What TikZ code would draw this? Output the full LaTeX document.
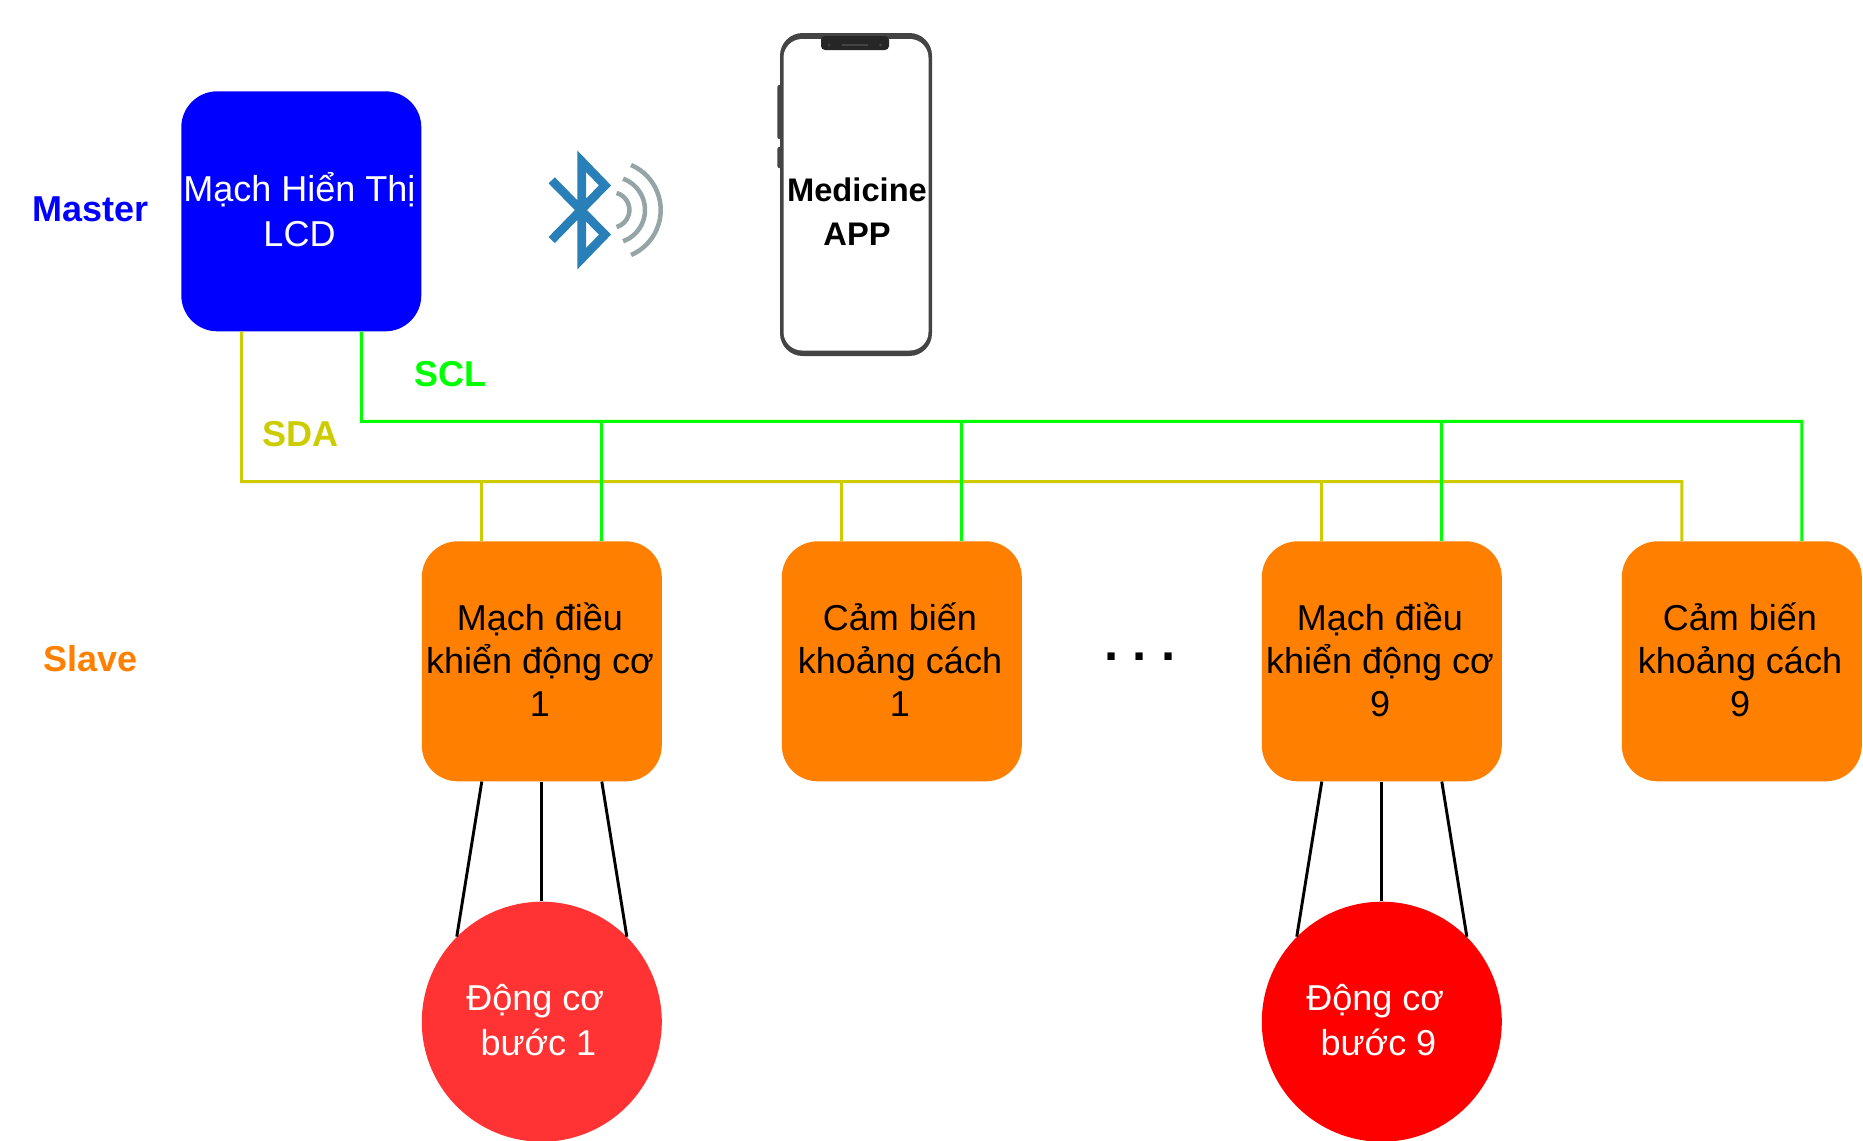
\documentclass[tikz,border=0pt]{standalone}
\usepackage{fontspec}
\setmainfont{Liberation Sans}
\definecolor{sdacolor}{HTML}{CCCC00}
\definecolor{sclcolor}{HTML}{00FF00}
\definecolor{boardcolor}{HTML}{FF8000}
\definecolor{motorlight}{HTML}{FF3333}
\definecolor{btblue}{HTML}{2980B9}
\definecolor{btgray}{HTML}{95A5A6}
\definecolor{phonecolor}{HTML}{444444}
\begin{document}
\begin{tikzpicture}[x=0.75pt, y=-0.75pt]
\tikzstyle{lcd} = [fill=blue, text=white, rounded corners=27pt, minimum size=180pt, inner sep=0pt, align=center, text depth=2.7pt, execute at end node=\hspace*{2.7pt}, font=\fontsize{27}{33.5}\selectfont];
\tikzstyle{board} = [lcd, fill=boardcolor, text=black, font=\fontsize{27}{32.5}\selectfont];
\tikzstyle{motor} = [circle, fill=red, text=white, minimum size=180pt, inner sep=0pt, align=center, text depth=2.7pt, font=\fontsize{27}{33.2}\selectfont];
\tikzstyle{tag} = [anchor=base, inner sep=0pt, font=\fontsize{27}{32.6}\selectfont\bfseries];
\tikzstyle{sda} = [draw=sdacolor, line width=2.2pt];
\tikzstyle{scl} = [draw=sclcolor, line width=2.2pt];
\tikzstyle{wire} = [draw=black, line width=2.2pt];
\useasboundingbox (0,0) rectangle (1863,1140);
% bus first, boxes go on top
\coordinate (sda0) at (241.5,481.7);
\coordinate (sda1) at (481.8,481.7);
\coordinate (sda2) at (841.8,481.7);
\coordinate (sda3) at (1321.8,481.7);
\coordinate (sda4) at (1681.8,481.7);
\coordinate (scl0) at (361.5,421.3);
\coordinate (scl1) at (601.8,421.3);
\coordinate (scl2) at (961.8,421.3);
\coordinate (scl3) at (1441.8,421.3);
\coordinate (scl4) at (1801.8,421.3);
\node[lcd] (lcd) at (301.3,211.3) {Mạch Hiển Thị\\LCD};
\node[board] (driver1) at (541.8,661.3) {Mạch điều\\khiển động cơ\\1};
\node[board] (sensor1) at (901.8,661.3) {Cảm biến\\khoảng cách\\1};
\node[board] (driver9) at (1381.8,661.3) {Mạch điều\\khiển động cơ\\9};
\node[board] (sensor9) at (1741.8,661.3) {Cảm biến\\khoảng cách\\9};
\node[motor, fill=motorlight] (motor1) at (541.8,1021.7) {Động cơ\hspace*{9.8pt}\\bước 1\hspace*{5.1pt}};
\node[motor] (motor9) at (1381.8,1021.7) {Động cơ\hspace*{9.8pt}\\bước 9\hspace*{5.1pt}};
\node[tag, text=blue] (master) at (90.5,221.7) {Master};
\node[tag, text=boardcolor] (slave) at (90.5,671.5) {Slave};
\node[tag, text=sdacolor] (sdalabel) at (300.5,446.7) {SDA};
\node[tag, text=sclcolor] (scllabel) at (450,386.7) {SCL};
\node[tag, font=\fontsize{38.2}{40}\selectfont\bfseries\frenchspacing] (dots) at (1140,660) {. . .};
\draw[sda] ([xshift=-45pt]lcd.south) -- (sda0) -- (sda4) -- ([xshift=-45pt]sensor9.north);
\draw[sda] (sda1) -- ([xshift=-45pt]driver1.north);
\draw[sda] (sda2) -- ([xshift=-45pt]sensor1.north);
\draw[sda] (sda3) -- ([xshift=-45pt]driver9.north);
\draw[scl] ([xshift=45pt]lcd.south) -- (scl0) -- (scl4) -- ([xshift=45pt]sensor9.north);
\draw[scl] (scl1) -- ([xshift=45pt]driver1.north);
\draw[scl] (scl2) -- ([xshift=45pt]sensor1.north);
\draw[scl] (scl3) -- ([xshift=45pt]driver9.north);
\draw[wire] ([xshift=-45pt]driver1.south) -- (motor1.north west);
\draw[wire] (driver1.south) -- (motor1.north);
\draw[wire] ([xshift=45pt]driver1.south) -- (motor1.north east);
\draw[wire] ([xshift=-45pt]driver9.south) -- (motor9.north west);
\draw[wire] (driver9.south) -- (motor9.north);
\draw[wire] ([xshift=45pt]driver9.south) -- (motor9.north east);
% phone
\fill[phonecolor, rounded corners=1.5pt] (777.3,85) rectangle (783,139);
\fill[phonecolor, rounded corners=1.5pt] (777.3,147) rectangle (783,168);
\fill[phonecolor, rounded corners=17pt] (780,33) rectangle (932,356);
\fill[white, rounded corners=14pt] (783.5,39) rectangle (928.5,350.5);
\fill[black!85, rounded corners=3pt] (821,36) -- (889,36) -- (889,50) -- (821,50) -- cycle;
\fill[phonecolor] (829,45) circle (1.5);
\fill[phonecolor] (880.7,45) circle (1.5);
\draw[phonecolor, line width=0.8pt] (841.7,45) -- (868.3,45);
\node[anchor=base, align=center, inner sep=0pt, font=\fontsize{24.5}{33}\selectfont\bfseries] (app) at (857,245) {Medicine\\APP};
% bluetooth
\draw[btblue, line width=6.5pt] (551.7,180.3) -- (605,234.6) -- (581.7,258.7) -- (581.7,161.3) -- (605,185.4) -- (551.7,240);
\draw[btgray, line width=3.4pt] (611.7,210) ++(-66.7:49) arc (-66.7:66.7:49);
\draw[btgray, line width=3.4pt] (611.7,210) ++(-70:33.3) arc (-70:70:33.3);
\draw[btgray, line width=3.4pt] (611.7,210) ++(-74:17.7) arc (-74:74:17.7);
\end{tikzpicture}
\end{document}
